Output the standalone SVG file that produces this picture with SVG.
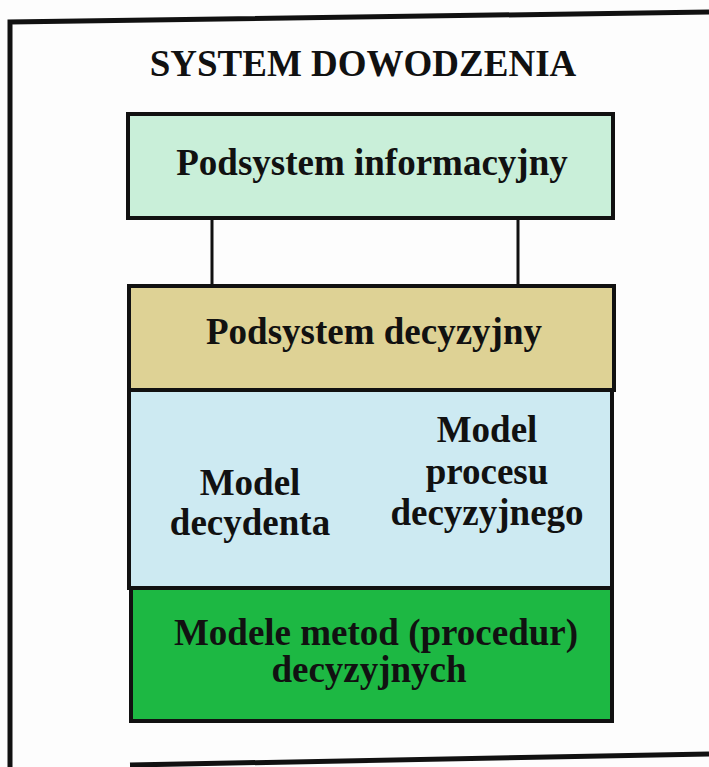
<svg xmlns="http://www.w3.org/2000/svg" width="709" height="767" viewBox="0 0 709 767">
<style>
.box{stroke:#111;stroke-width:4}
.t{font-family:"Liberation Serif","Times New Roman",serif;font-weight:bold;fill:#111;text-anchor:middle;font-size:37px}
.frame{stroke:#111;stroke-width:5;fill:none}
</style>
<rect width="709" height="767" fill="#fdfdfd"/>
<g id="frame">
<path class="frame" d="M10 767 L10 22 L709 12"/>
<path class="frame" d="M130 765 L709 754"/>
</g>
<text class="t" x="363" y="76" font-size="39">SYSTEM DOWODZENIA</text>
<g id="connectors">
<line x1="212" y1="219" x2="212" y2="286" stroke="#111" stroke-width="3"/>
<line x1="518" y1="219" x2="518" y2="286" stroke="#111" stroke-width="3"/>
</g>
<g id="info">
<rect class="box" x="128" y="114" width="485" height="104" fill="#c9efd9"/>
<text class="t" x="372" y="175">Podsystem informacyjny</text>
</g>
<g id="decision">
<rect class="box" x="129" y="286" width="485" height="104" fill="#ded295"/>
<text class="t" x="374" y="344">Podsystem decyzyjny</text>
</g>
<g id="models">
<rect class="box" x="129" y="390" width="483" height="198" fill="#cdeaf2"/>
<text class="t" x="250" y="495">Model</text>
<text class="t" x="250" y="535">decydenta</text>
<text class="t" x="487" y="442">Model</text>
<text class="t" x="487" y="484">procesu</text>
<text class="t" x="487" y="525">decyzyjnego</text>
</g>
<g id="methods">
<rect class="box" x="131" y="588" width="481" height="133" fill="#1db843"/>
<text class="t" x="376" y="645">Modele metod (procedur)</text>
<text class="t" x="369" y="682">decyzyjnych</text>
</g>
</svg>
